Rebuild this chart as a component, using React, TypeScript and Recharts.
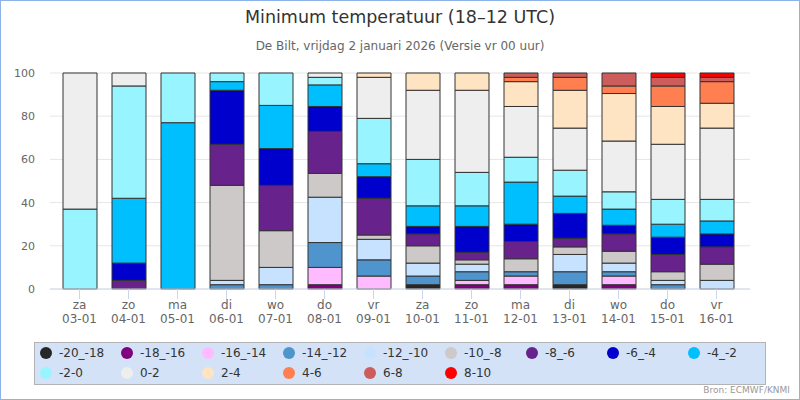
import React from "react";
import {
  BarChart,
  Bar,
  XAxis,
  YAxis,
  CartesianGrid,
  Legend,
} from "recharts";

// categories
const WEEKDAYS = ["za", "zo", "ma", "di", "wo", "do", "vr", "za", "zo", "ma", "di", "wo", "do", "vr"];
const DATES = ["03-01", "04-01", "05-01", "06-01", "07-01", "08-01", "09-01", "10-01", "11-01", "12-01", "13-01", "14-01", "15-01", "16-01"];

// temperature classes (coldest first = bottom of the stack)
const BINS = ["-20_-18", "-18_-16", "-16_-14", "-14_-12", "-12_-10", "-10_-8", "-8_-6", "-6_-4", "-4_-2", "-2-0", "0-2", "2-4", "4-6", "6-8", "8-10"];
const COLORS = ["#262626", "#800080", "#ffbbff", "#4f94cd", "#c6e2ff", "#cdc9c9", "#68228b", "#0000cd", "#00bfff", "#98f5ff", "#eeeeee", "#ffe4c4", "#ff7f50", "#cd5c5c", "#ff0000"];

// percentage of members per class, one value per day
const m20_18 = [0, 0, 0, 0, 0, 0, 0, 2, 0, 0, 2, 0, 0, 0];
const m18_16 = [0, 0, 0, 0, 0, 2, 0, 0, 2, 2, 0, 2, 0, 0];
const m16_14 = [0, 0, 0, 0, 0, 8, 6, 0, 2, 4, 0, 4, 0, 0];
const m14_12 = [0, 0, 0, 2, 2, 11.5, 7.5, 4, 4, 2, 6, 2, 2, 0];
const m12_10 = [0, 0, 0, 2, 8, 21, 9.5, 6, 3.5, 0, 8, 4, 2, 4];
const m10_8 = [0, 0, 0, 44, 17, 11, 2, 8, 2, 6, 3.5, 5.5, 4, 7.5];
const m8_6 = [0, 4, 0, 19, 21, 19.5, 17, 5.5, 3.5, 8, 4, 8, 8, 8];
const m6_4 = [0, 8, 0, 25, 17, 11.5, 10, 3.5, 12, 8, 11.5, 4, 8, 6];
const m4_2 = [0, 30, 77, 4, 20, 10, 6, 9.5, 9.5, 19.5, 8, 7.5, 6, 6];
const m2_0 = [37, 52, 23, 4, 15, 3.5, 21, 21.5, 15.5, 11.5, 12, 8, 11.5, 10];
const p0_2 = [63, 6, 0, 0, 0, 2, 19, 32, 38, 23.5, 19.5, 23.5, 25.5, 33];
const p2_4 = [0, 0, 0, 0, 0, 0, 2, 8, 8, 11.5, 17.5, 22, 17.5, 11.5];
const p4_6 = [0, 0, 0, 0, 0, 0, 0, 0, 0, 2, 6, 3.5, 9.5, 10];
const p6_8 = [0, 0, 0, 0, 0, 0, 0, 0, 0, 2, 2, 6, 4, 2];
const p8_10 = [0, 0, 0, 0, 0, 0, 0, 0, 0, 0, 0, 0, 2, 2];

const SERIES = [m20_18, m18_16, m16_14, m14_12, m12_10, m10_8, m8_6, m6_4, m4_2, m2_0, p0_2, p2_4, p4_6, p6_8, p8_10];
const Y_TICKS = [0, 20, 40, 60, 80, 100];

const FONT = "'DejaVu Sans', Verdana, sans-serif";

const data = DATES.map((date, i) => {
  const row: Record<string, any> = { date, wd: WEEKDAYS[i] };
  SERIES.forEach((s, k) => {
    row["b" + k] = s[i];
  });
  return row;
});

const DayTick = (props: any) => {
  const { x, y, payload, index } = props;
  return (
    <g>
      <text x={x} y={y + 7.5} textAnchor="middle" fill="#666" fontSize={12} fontFamily={FONT}>
        {WEEKDAYS[index]}
      </text>
      <text x={x} y={y + 22} textAnchor="middle" fill="#666" fontSize={12} fontFamily={FONT}>
        {payload.value}
      </text>
    </g>
  );
};

const renderLegend = () => (
  <div
    style={{
      boxSizing: "border-box",
      width: "100%",
      height: "100%",
      background: "#d3e2f6",
      border: "1px solid #b3b3b3",
      display: "flex",
      flexWrap: "wrap",
      alignContent: "flex-start",
      padding: 0,
      fontFamily: FONT,
      fontSize: 12,
      color: "#333",
    }}
  >
    {BINS.map((b, k) => (
      <div
        key={b}
        style={{ width: 81, height: 20, display: "flex", alignItems: "center" }}
      >
        <span
          style={{
            display: "inline-block",
            width: 12,
            height: 12,
            borderRadius: 6,
            background: COLORS[k],
            marginLeft: 5,
            marginRight: 7,
            flexShrink: 0,
          }}
        />
        <span style={{ whiteSpace: "nowrap" }}>{b}</span>
      </div>
    ))}
  </div>
);

export default function App() {
  return (
    <div
      style={{
        position: "absolute",
        left: 0,
        top: 0,
        width: 800,
        height: 400,
        background: "#fff",
        fontFamily: FONT,
      }}
    >
      <div
        style={{
          position: "absolute",
          top: 7,
          width: 800,
          textAlign: "center",
          fontSize: 17.5,
          color: "#333",
        }}
      >
        Minimum temperatuur (18–12 UTC)
      </div>
      <div
        style={{
          position: "absolute",
          top: 39,
          width: 800,
          textAlign: "center",
          fontSize: 12,
          color: "#666",
        }}
      >
        De Bilt, vrijdag 2 januari 2026 (Versie vr 00 uur)
      </div>
      <BarChart
        width={800}
        height={400}
        data={data}
        margin={{ top: 73, right: 0, bottom: 81, left: 0 }}
      >
        <CartesianGrid vertical={false} stroke="#e6e6e6" yAxisId="left" />
        <XAxis
          dataKey="date"
          height={30}
          padding={{ left: 5, right: 9 }}
          axisLine={{ stroke: "#ccd6eb" }}
          tickLine={{ stroke: "#ccd6eb" }}
          tickSize={10}
          interval={0}
          tick={<DayTick />}
        />
        <YAxis
          yAxisId="left"
          width={50}
          domain={[0, 100]}
          ticks={Y_TICKS}
          axisLine={false}
          tickLine={false}
          tickMargin={9}
          tick={{ fill: "#666", fontSize: 11, fontFamily: FONT }}
        />
        <YAxis
          yAxisId="right"
          orientation="right"
          width={50}
          domain={[0, 100]}
          ticks={Y_TICKS}
          axisLine={false}
          tickLine={false}
          tickMargin={9}
          tick={{ fill: "#666", fontSize: 11, fontFamily: FONT, textAnchor: "start" }}
        />
        {BINS.map((b, k) => (
          <Bar
            key={b}
            yAxisId="left"
            dataKey={"b" + k}
            name={b}
            stackId="t"
            fill={COLORS[k]}
            stroke="#333"
            strokeWidth={1}
            barSize={34}
            isAnimationActive={false}
          />
        ))}
        <Legend
          layout="horizontal"
          verticalAlign="middle"
          align="center"
          content={renderLegend}
          wrapperStyle={{ left: 34, top: 342, width: 732, height: 43, bottom: "auto" }}
        />
      </BarChart>
      <div
        style={{
          position: "absolute",
          right: 10,
          top: 385,
          fontSize: 9,
          color: "#999",
        }}
      >
        Bron: ECMWF/KNMI
      </div>
      <div
        style={{
          position: "absolute",
          left: 0,
          top: 0,
          width: 800,
          height: 400,
          boxSizing: "border-box",
          border: "1px solid #8db3e8",
          pointerEvents: "none",
        }}
      />
    </div>
  );
}
